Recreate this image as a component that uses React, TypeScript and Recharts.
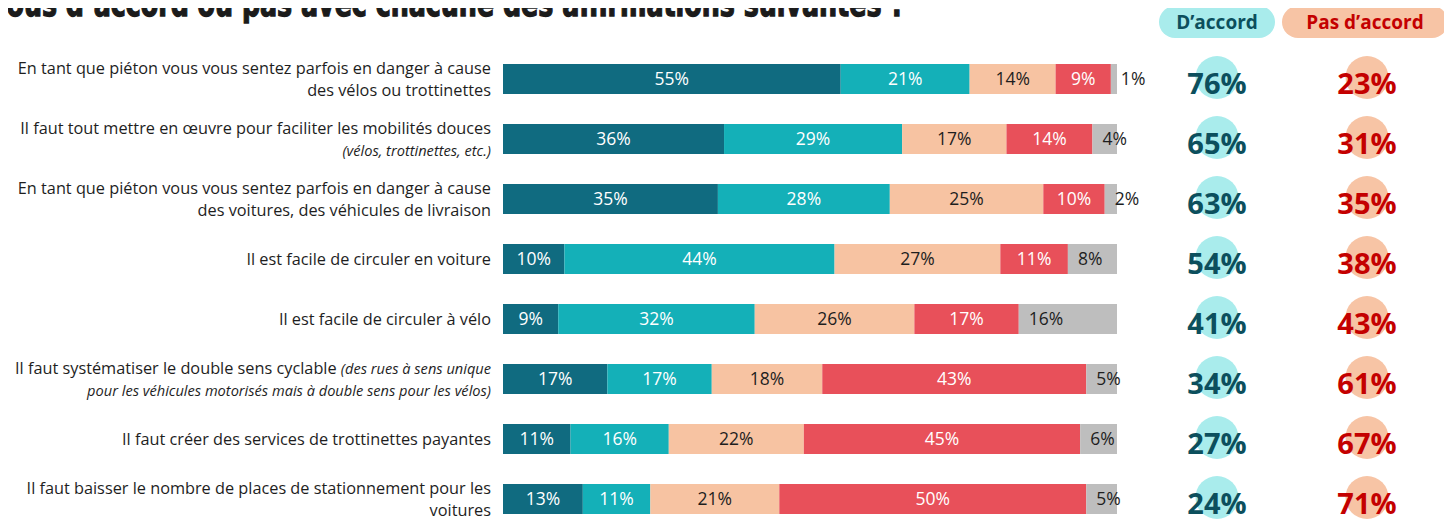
import * as React from "react";
import { BarChart, Bar, XAxis, YAxis, LabelList } from "recharts";

// ── Data ────────────────────────────────────────────────────────────────────
// Statement labels, one entry per line; text between "_" is set in italics.
const statementLines: string[][] = [
  ["En tant que piéton vous vous sentez parfois en danger à cause", "des vélos ou trottinettes"],
  ["Il faut tout mettre en œuvre pour faciliter les mobilités douces", "_(vélos, trottinettes, etc.)_"],
  ["En tant que piéton vous vous sentez parfois en danger à cause", "des voitures, des véhicules de livraison"],
  ["Il est facile de circuler en voiture"],
  ["Il est facile de circuler à vélo"],
  [
    "Il faut systématiser le double sens cyclable _(des rues à sens unique_",
    "_pour les véhicules motorisés mais à double sens pour les vélos)_",
  ],
  ["Il faut créer des services de trottinettes payantes"],
  ["Il faut baisser le nombre de places de stationnement pour les", "voitures"],
];

const toutAFaitDaccord = [55, 36, 35, 10, 9, 17, 11, 13];
const plutotDaccord = [21, 29, 28, 44, 32, 17, 16, 11];
const plutotPasDaccord = [14, 17, 25, 27, 26, 18, 22, 21];
const pasDuToutDaccord = [9, 14, 10, 11, 17, 43, 45, 50];
const neSaitPas = [1, 4, 2, 8, 16, 5, 6, 5];

const totalDaccord = [76, 65, 63, 54, 41, 34, 27, 24];
const totalPasDaccord = [23, 31, 35, 38, 43, 61, 67, 71];

const rows = statementLines.map((_, i) => ({
  id: `s${i}`,
  a: toutAFaitDaccord[i],
  b: plutotDaccord[i],
  c: plutotPasDaccord[i],
  d: pasDuToutDaccord[i],
  e: neSaitPas[i],
}));

// ── Styling ─────────────────────────────────────────────────────────────────
const SANS = "'Open Sans', 'Noto Sans', sans-serif";
const DARK_TEAL = "#106b80";
const TEAL = "#14b0b8";
const PEACH = "#f7c3a2";
const RED = "#e8505a";
const GREY = "#bebebe";
const TEXT = "#1e1e1e";

const AGREE_FILL = "#a9ecec";
const AGREE_TEXT = "#0c4f5d";
const DISAGREE_FILL = "#f7c4a5";
const DISAGREE_TEXT = "#c40000";

const AGREE_X = 1217;
const DISAGREE_X = 1367;

function renderSegments(line: string) {
  return line.split("_").map((part, k) =>
    part ? (
      <tspan key={k} fontStyle={k % 2 ? "italic" : "normal"} fontSize={k % 2 ? 14.6 : 16.3}>
        {part}
      </tspan>
    ) : null
  );
}

function RowTick(props: any) {
  const { x, y, payload } = props;
  const i = rows.findIndex((r) => r.id === payload.value);
  if (i < 0) return null;
  const lines = statementLines[i];
  const baselines = lines.length === 1 ? [y + 6] : [y - 5, y + 17];
  return (
    <g>
      {lines.map((line, k) => (
        <text
          key={k}
          x={x}
          y={baselines[k]}
          textAnchor="end"
          fontFamily={SANS}
          fontSize={16.3}
          fill={TEXT}
          xmlSpace="preserve"
        >
          {renderSegments(line)}
        </text>
      ))}
      <circle cx={AGREE_X} cy={y - 1.5} r={21.5} fill={AGREE_FILL} />
      <text
        x={AGREE_X}
        y={y + 15}
        textAnchor="middle"
        fontFamily={SANS}
        fontWeight={700}
        fontSize={29}
        fill={AGREE_TEXT}
      >
        {totalDaccord[i]}%
      </text>
      <circle cx={DISAGREE_X} cy={y - 1.5} r={21.5} fill={DISAGREE_FILL} />
      <text
        x={DISAGREE_X}
        y={y + 15}
        textAnchor="middle"
        fontFamily={SANS}
        fontWeight={700}
        fontSize={29}
        fill={DISAGREE_TEXT}
      >
        {totalPasDaccord[i]}%
      </text>
    </g>
  );
}

const centerLabel = (color: string) => (p: any) => (
  <text
    x={p.x + p.width / 2}
    y={p.y + p.height / 2}
    dy="0.36em"
    textAnchor="middle"
    fontFamily={SANS}
    fontSize={17.5}
    fill={color}
  >
    {p.value}%
  </text>
);

// grey "ne sait pas" labels sit just after the start of the segment
const startLabel = (p: any) => (
  <text
    x={p.x + 10}
    y={p.y + p.height / 2}
    dy="0.36em"
    textAnchor="start"
    fontFamily={SANS}
    fontSize={17.5}
    fill={TEXT}
  >
    {p.value}%
  </text>
);

export default function App() {
  return (
    <div
      style={{
        position: "relative",
        width: 1452,
        height: 529,
        margin: -8,
        background: "#fff",
        overflow: "hidden",
      }}
    >
      <BarChart
        width={1452}
        height={529}
        data={rows}
        layout="vertical"
        margin={{ top: 49, right: 335, bottom: 0, left: 0 }}
        barSize={30}
      >
        <XAxis type="number" domain={[0, 100]} hide />
        <YAxis
          type="category"
          dataKey="id"
          width={503}
          interval={0}
          tickLine={false}
          axisLine={false}
          tickSize={0}
          tickMargin={12}
          tick={<RowTick />}
        />
        <Bar dataKey="a" stackId="s" fill={DARK_TEAL} isAnimationActive={false}>
          <LabelList dataKey="a" content={centerLabel("#ffffff")} />
        </Bar>
        <Bar dataKey="b" stackId="s" fill={TEAL} isAnimationActive={false}>
          <LabelList dataKey="b" content={centerLabel("#ffffff")} />
        </Bar>
        <Bar dataKey="c" stackId="s" fill={PEACH} isAnimationActive={false}>
          <LabelList dataKey="c" content={centerLabel(TEXT)} />
        </Bar>
        <Bar dataKey="d" stackId="s" fill={RED} isAnimationActive={false}>
          <LabelList dataKey="d" content={centerLabel("#ffffff")} />
        </Bar>
        <Bar dataKey="e" stackId="s" fill={GREY} isAnimationActive={false}>
          <LabelList dataKey="e" content={startLabel} />
        </Bar>
      </BarChart>

      {/* title (cut off at the top-left in the source) and column headers */}
      <svg
        width={1452}
        height={44}
        style={{ position: "absolute", left: 0, top: 0 }}
      >
        <text
          x={-10}
          y={16}
          fontFamily="'Liberation Sans Narrow', 'DejaVu Sans Condensed', sans-serif"
          fontWeight={700}
          fontSize={36}
          textLength={915}
          lengthAdjust="spacingAndGlyphs"
          fill="#1b1b1b"
          stroke="#1b1b1b"
          strokeWidth={1.3}
        >
          vous d’accord ou pas avec chacune des affirmations suivantes ?
        </text>
        <rect x={1159} y={6} width={116} height={32} rx={16} fill={AGREE_FILL} />
        <text
          x={1217}
          y={29}
          textAnchor="middle"
          fontFamily={SANS}
          fontWeight={700}
          fontSize={19}
          fill={AGREE_TEXT}
        >
          D’accord
        </text>
        <rect x={1282} y={6} width={166} height={32} rx={16} fill={DISAGREE_FILL} />
        <text
          x={1365}
          y={29}
          textAnchor="middle"
          fontFamily={SANS}
          fontWeight={700}
          fontSize={19}
          fill={DISAGREE_TEXT}
        >
          Pas d’accord
        </text>
      </svg>
    </div>
  );
}
